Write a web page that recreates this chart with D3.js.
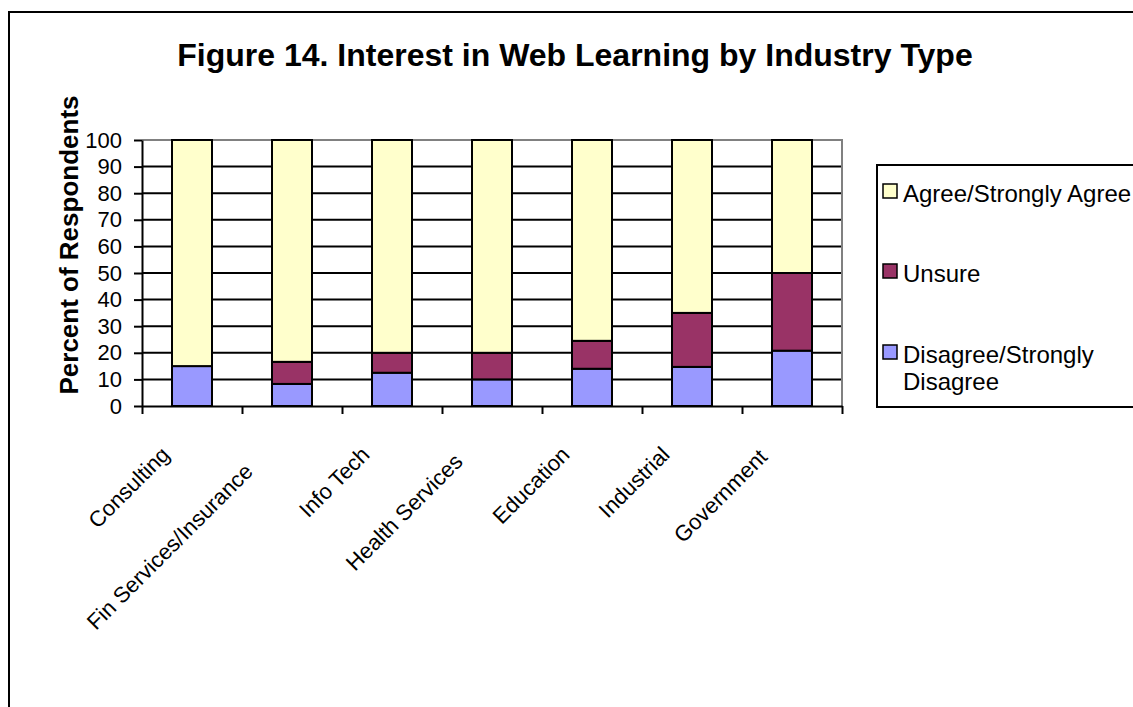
<!DOCTYPE html>
<html>
<head>
<meta charset="utf-8">
<script src="https://cdn.jsdelivr.net/npm/d3@7"></script>
<style>
  html, body { margin: 0; padding: 0; background: #fff; }
  svg { display: block; font-family: "Liberation Sans", Arial, sans-serif; }
</style>
</head>
<body>
<svg id="chart" width="1133" height="707"></svg>
<script>
// Industry categories along the x axis
const categories = ["Consulting", "Fin Services/Insurance", "Info Tech", "Health Services",
                    "Education", "Industrial", "Government"];
// Percent of respondents per response group
const disagree = [15, 8.3, 12.5, 10, 14, 14.7, 20.8];
const unsure   = [0, 8.3, 7.5, 10, 10.5, 20.3, 29.2];
const agree    = [85, 83.4, 80, 80, 75.5, 65, 50];
const yTicks   = [0, 10, 20, 30, 40, 50, 60, 70, 80, 90, 100];

const seriesNames  = ["Disagree/Strongly Disagree", "Unsure", "Agree/Strongly Agree"];
const seriesColors = ["#9999FF", "#993366", "#FFFFCC"];

const rows = categories.map((c, i) => ({
  cat: c, d: disagree[i], u: unsure[i], a: agree[i]
}));
const stack = d3.stack().keys(["d", "u", "a"])(rows);

const svg = d3.select("#chart");
const plot = { left: 142, right: 842, top: 140, bottom: 406 };

// Outer chart frame (runs off the right and bottom edges)
svg.append("rect")
  .attr("x", 9).attr("y", 12).attr("width", 1200).attr("height", 800)
  .attr("fill", "none").attr("stroke", "#000").attr("stroke-width", 2);

// Title
svg.append("text")
  .attr("x", 575).attr("y", 66)
  .attr("text-anchor", "middle")
  .attr("font-size", 32).attr("font-weight", "bold")
  .text("Figure 14. Interest in Web Learning by Industry Type");

const x = d3.scaleBand().domain(categories).range([plot.left, plot.right]).paddingInner(0.6).paddingOuter(0.3);
const xb = d3.scaleLinear().domain([0, categories.length]).range([plot.left, plot.right]);
const y = d3.scaleLinear().domain([0, 100]).range([plot.bottom, plot.top]);

// Horizontal gridlines
svg.append("g").selectAll("line")
  .data(yTicks.filter(t => t > 0 && t < 100))
  .join("line")
  .attr("x1", plot.left).attr("x2", plot.right)
  .attr("y1", d => y(d)).attr("y2", d => y(d))
  .attr("stroke", "#000").attr("stroke-width", 2);

// Plot area border (top and right)
svg.append("path")
  .attr("d", `M${plot.left},${y(100)}H${plot.right}V${plot.bottom}`)
  .attr("fill", "none").attr("stroke", "#808080").attr("stroke-width", 2);

// Stacked bars
svg.append("g").selectAll("g")
  .data(stack)
  .join("g")
  .attr("fill", (d, i) => seriesColors[i])
  .selectAll("rect")
  .data(d => d.filter(p => p[1] - p[0] > 0))
  .join("rect")
  .attr("x", d => x(d.data.cat))
  .attr("width", x.bandwidth())
  .attr("y", d => y(d[1]))
  .attr("height", d => y(d[0]) - y(d[1]))
  .attr("stroke", "#000").attr("stroke-width", 2);

// Y axis
const yAxis = svg.append("g")
  .attr("transform", `translate(${plot.left},0)`)
  .call(d3.axisLeft(y).tickValues(yTicks).tickSize(8).tickSizeOuter(0).tickPadding(12));
yAxis.select(".domain").attr("stroke", "#000").attr("stroke-width", 2);
yAxis.selectAll(".tick line").attr("stroke", "#000").attr("stroke-width", 2);
yAxis.selectAll(".tick text").attr("font-size", 22).attr("fill", "#000")
  .attr("font-family", "'Liberation Sans', Arial, sans-serif");

// X axis with ticks at category boundaries
const xAxis = svg.append("g")
  .attr("transform", `translate(0,${plot.bottom})`)
  .call(d3.axisBottom(xb).tickValues(d3.range(0, categories.length + 1)).tickSize(8).tickSizeOuter(0).tickFormat(""));
xAxis.select(".domain").attr("stroke", "#000").attr("stroke-width", 2);
xAxis.selectAll(".tick line").attr("stroke", "#000").attr("stroke-width", 2);

// Rotated category labels, end-anchored below each bar
const catLabels = svg.append("g").selectAll("text")
  .data(categories)
  .join("text")
  .attr("text-anchor", "end")
  .attr("font-size", 22)
  .text(d => d);
catLabels.each(function (d) {
  const len = this.getComputedTextLength();
  const back = Math.max(0, (len - 104) * 0.14);
  const px = x(d) + x.bandwidth() / 2 - 21 - back;
  const py = 456 + back;
  d3.select(this).attr("transform", `translate(${px},${py}) rotate(-45)`);
});

// Y axis title
svg.append("text")
  .attr("transform", `translate(78,245) rotate(-90)`)
  .attr("text-anchor", "middle")
  .attr("font-size", 26).attr("font-weight", "bold")
  .text("Percent of Respondents");

// Legend
const lg = svg.append("g");
lg.append("rect")
  .attr("x", 877).attr("y", 165).attr("width", 400).attr("height", 242)
  .attr("fill", "#fff").attr("stroke", "#000").attr("stroke-width", 2);
const legendItems = [
  { name: ["Agree/Strongly Agree"], color: seriesColors[2], base: 202 },
  { name: ["Unsure"], color: seriesColors[1], base: 282 },
  { name: ["Disagree/Strongly", "Disagree"], color: seriesColors[0], base: 363 }
];
legendItems.forEach(it => {
  lg.append("rect")
    .attr("x", 883).attr("y", it.base - 18).attr("width", 14).attr("height", 14)
    .attr("fill", it.color).attr("stroke", "#000").attr("stroke-width", 1.5);
  const t = lg.append("text").attr("x", 903).attr("y", it.base).attr("font-size", 24);
  it.name.forEach((line, j) => {
    t.append("tspan").attr("x", 903).attr("dy", j === 0 ? 0 : 27).text(line);
  });
});
</script>
</body>
</html>
